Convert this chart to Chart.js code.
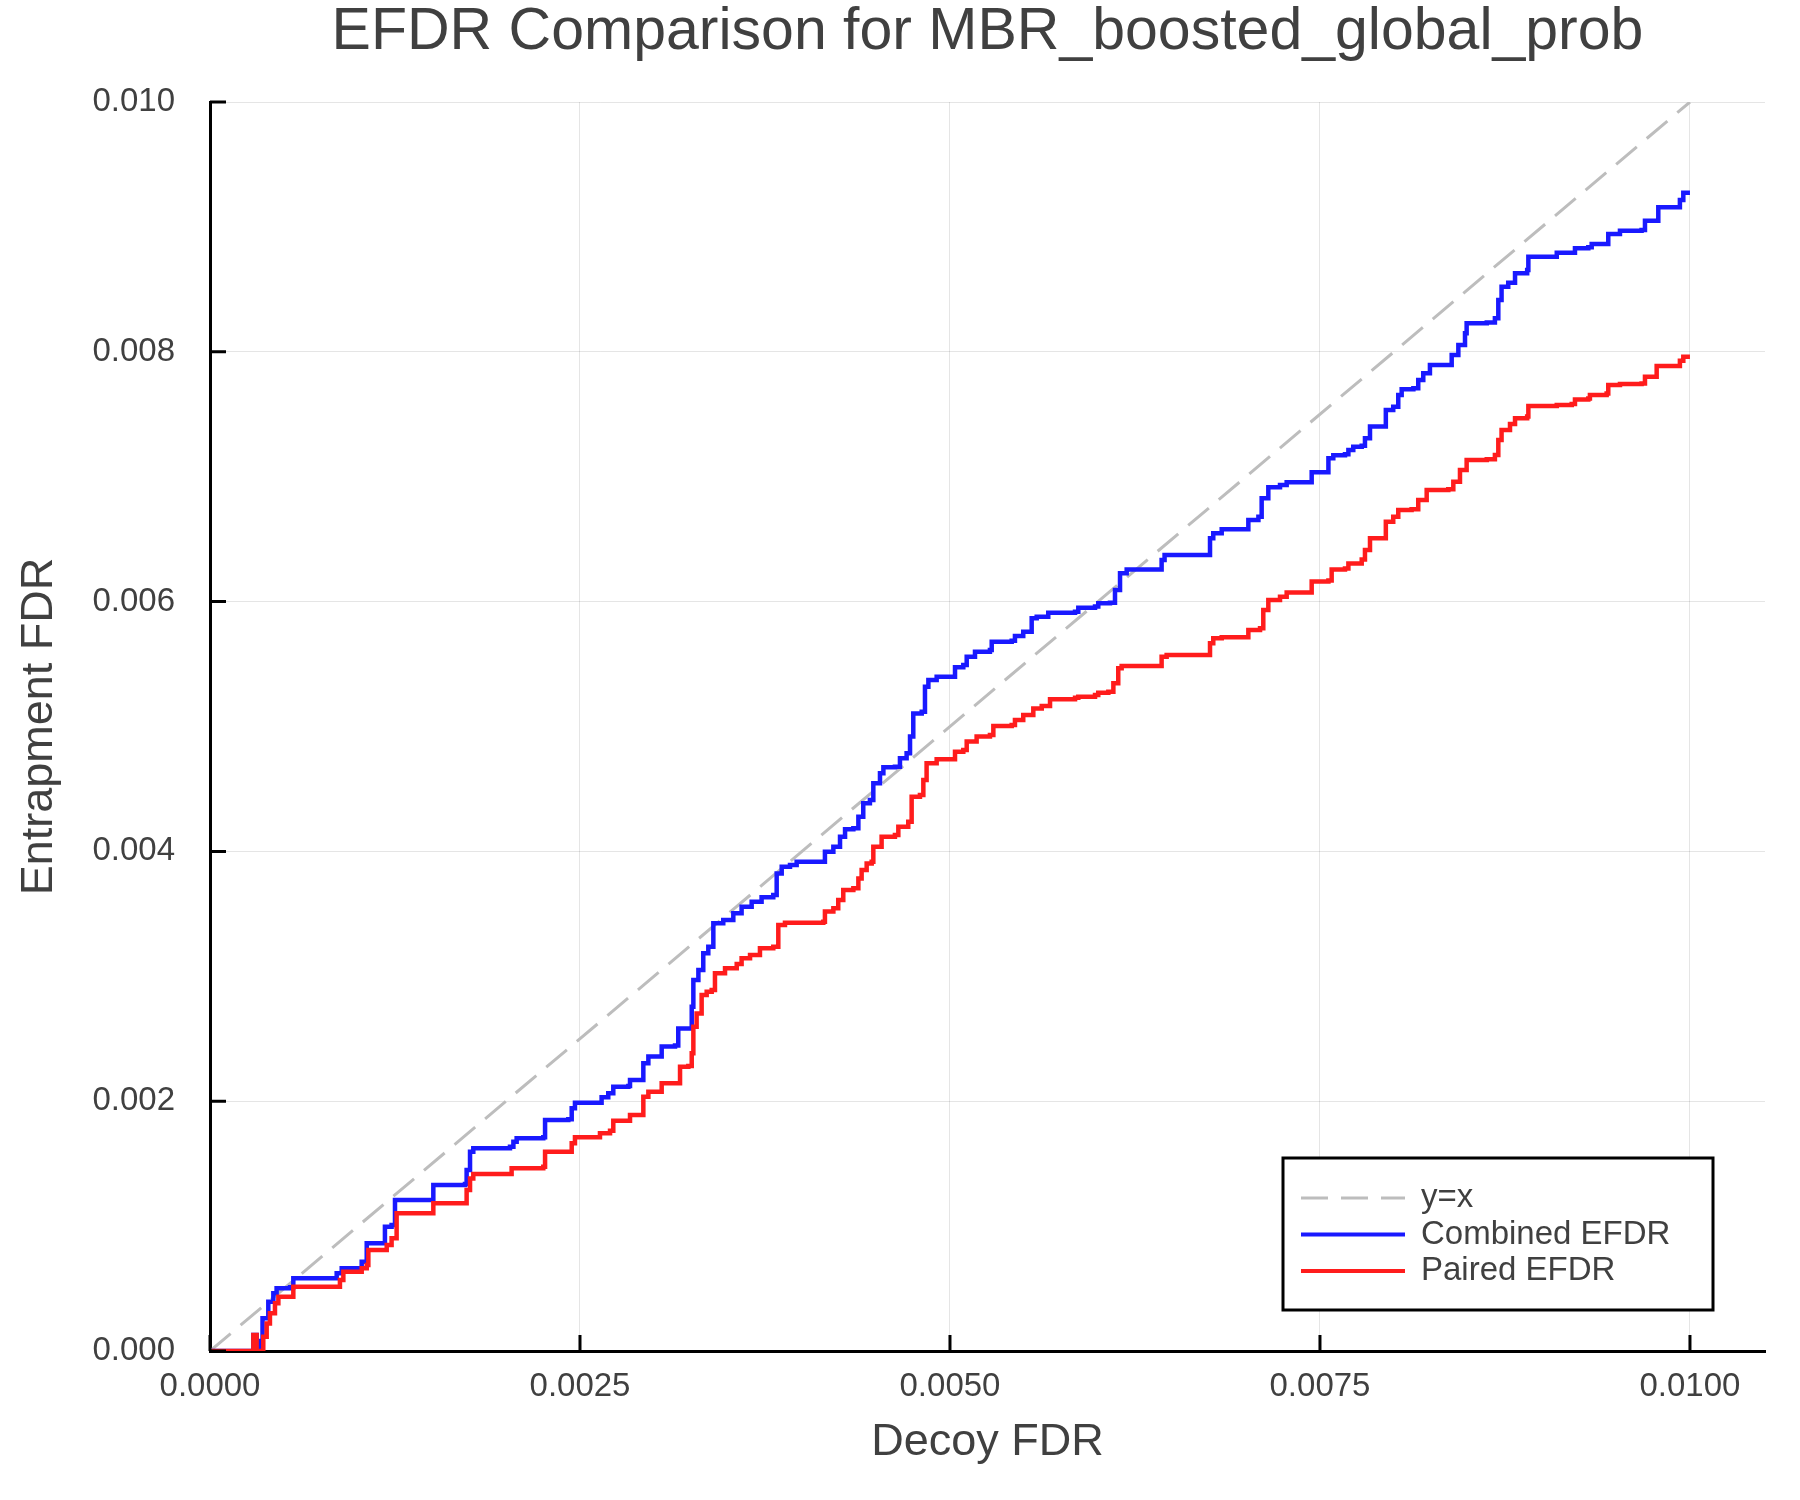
<!DOCTYPE html>
<html>
<head>
<meta charset="utf-8">
<title>EFDR Comparison for MBR_boosted_global_prob</title>
<script src="https://cdn.jsdelivr.net/npm/chart.js@4.4.0/dist/chart.umd.min.js"></script>
<style>
  html, body { margin: 0; padding: 0; background: #fff; }
  #wrap { width: 1800px; height: 1500px; }
</style>
</head>
<body>
<div id="wrap"><canvas id="efdrChart" width="1800" height="1500"></canvas></div>
<script>
// tick positions
const xTicks = [0, 0.0025, 0.005, 0.0075, 0.01];
const yTicks = [0, 0.002, 0.004, 0.006, 0.008, 0.010];

// reference line y = x
const diagX = [0, 0.01];
const diagY = [0, 0.01];

// Combined EFDR
const combinedX = [
  0, 0.000236, 0.000293, 0.000315, 0.000345, 0.000355, 0.000394, 0.000428, 0.000450, 0.000541,
  0.000563, 0.000845, 0.000856, 0.000890, 0.000991, 0.001025, 0.001059, 0.001160, 0.001182, 0.001227,
  0.001250, 0.001486, 0.001509, 0.001723, 0.001734, 0.001757, 0.001779, 0.002027, 0.002050, 0.002072,
  0.002252, 0.002264, 0.002421, 0.002444, 0.002466, 0.002624, 0.002646, 0.002691, 0.002725, 0.002827,
  0.002838, 0.002917, 0.002928, 0.002962, 0.003029, 0.003052, 0.003142, 0.003164, 0.003232, 0.003255,
  0.003266, 0.003300, 0.003333, 0.003367, 0.003401, 0.003468, 0.003536, 0.003592, 0.003660, 0.003727,
  0.003806, 0.003829, 0.003863, 0.003919, 0.003964, 0.004133, 0.004155, 0.004212, 0.004257, 0.004291,
  0.004347, 0.004381, 0.004414, 0.004459, 0.004482, 0.004527, 0.004550, 0.004628, 0.004662, 0.004707,
  0.004730, 0.004752, 0.004809, 0.004831, 0.004854, 0.004910, 0.005023, 0.005034, 0.005090, 0.005113,
  0.005169, 0.005270, 0.005282, 0.005417, 0.005439, 0.005495, 0.005552, 0.005586, 0.005664, 0.005845,
  0.005867, 0.005980, 0.006002, 0.006081, 0.006115, 0.006149, 0.006194, 0.006396, 0.006430, 0.006450,
  0.006734, 0.006757, 0.006779, 0.006836, 0.007005, 0.007016, 0.007084, 0.007106, 0.007151, 0.007230,
  0.007275, 0.007410, 0.007444, 0.007534, 0.007557, 0.007590, 0.007669, 0.007692, 0.007725, 0.007782,
  0.007804, 0.007838, 0.007939, 0.007945, 0.007995, 0.008029, 0.008052, 0.008131, 0.008164, 0.008198,
  0.008243, 0.008367, 0.008390, 0.008435, 0.008480, 0.008491, 0.008627, 0.008682, 0.008705, 0.008727,
  0.008772, 0.008818, 0.008900, 0.008908, 0.009032, 0.009100, 0.009201, 0.009223, 0.009313, 0.009336,
  0.009437, 0.009448, 0.009527, 0.009673, 0.009696, 0.009764, 0.009786, 0.009910, 0.009932, 0.009955,
  0.010000
];
const combinedY = [
  0, 0, 0.000128, 0, 0.000080, 0.000262, 0.000395, 0.000462, 0.000502, 0.000510,
  0.000582, 0.000582, 0.000622, 0.000662, 0.000662, 0.000715, 0.000862, 0.000862, 0.000995, 0.001009,
  0.001209, 0.001209, 0.001329, 0.001337, 0.001449, 0.001596, 0.001623, 0.001636, 0.001676, 0.001703,
  0.001711, 0.001849, 0.001855, 0.001943, 0.001988, 0.001988, 0.002031, 0.002063, 0.002116, 0.002121,
  0.002170, 0.002170, 0.002303, 0.002357, 0.002357, 0.002437, 0.002445, 0.002583, 0.002583, 0.002757,
  0.002970, 0.003050, 0.003184, 0.003237, 0.003424, 0.003450, 0.003504, 0.003557, 0.003597, 0.003632,
  0.003651, 0.003824, 0.003878, 0.003891, 0.003918, 0.003918, 0.003998, 0.004038, 0.004118, 0.004177,
  0.004185, 0.004278, 0.004385, 0.004412, 0.004545, 0.004625, 0.004673, 0.004678, 0.004745, 0.004785,
  0.004919, 0.005105, 0.005119, 0.005319, 0.005372, 0.005399, 0.005399, 0.005474, 0.005492, 0.005559,
  0.005599, 0.005612, 0.005679, 0.005687, 0.005725, 0.005759, 0.005866, 0.005879, 0.005911, 0.005919,
  0.005951, 0.005960, 0.005986, 0.005991, 0.006093, 0.006227, 0.006258, 0.006258, 0.006333, 0.006373,
  0.006373, 0.006507, 0.006547, 0.006579, 0.006579, 0.006653, 0.006680, 0.006827, 0.006915, 0.006934,
  0.006955, 0.006955, 0.007035, 0.007035, 0.007147, 0.007171, 0.007179, 0.007214, 0.007240, 0.007248,
  0.007307, 0.007401, 0.007401, 0.007534, 0.007561, 0.007654, 0.007700, 0.007708, 0.007774, 0.007828,
  0.007894, 0.007894, 0.007974, 0.008054, 0.008148, 0.008228, 0.008234, 0.008268, 0.008415, 0.008521,
  0.008553, 0.008628, 0.008655, 0.008761, 0.008761, 0.008794, 0.008794, 0.008829, 0.008837, 0.008863,
  0.008863, 0.008943, 0.008970, 0.008975, 0.009050, 0.009050, 0.009157, 0.009157, 0.009215, 0.009274,
  0.009274
];

// Paired EFDR
const pairedX = [
  0, 0.000236, 0.000293, 0.000315, 0.000360, 0.000383, 0.000405, 0.000439, 0.000462, 0.000541,
  0.000563, 0.000845, 0.000878, 0.000901, 0.000991, 0.001025, 0.001059, 0.001070, 0.001171, 0.001194,
  0.001227, 0.001261, 0.001498, 0.001509, 0.001712, 0.001734, 0.001757, 0.001779, 0.002016, 0.002038,
  0.002252, 0.002264, 0.002421, 0.002444, 0.002466, 0.002613, 0.002635, 0.002703, 0.002725, 0.002827,
  0.002838, 0.002917, 0.002928, 0.002962, 0.003029, 0.003052, 0.003164, 0.003176, 0.003232, 0.003255,
  0.003266, 0.003288, 0.003322, 0.003356, 0.003390, 0.003412, 0.003480, 0.003559, 0.003592, 0.003649,
  0.003716, 0.003806, 0.003840, 0.003885, 0.004144, 0.004155, 0.004212, 0.004245, 0.004279, 0.004347,
  0.004381, 0.004403, 0.004437, 0.004471, 0.004482, 0.004538, 0.004628, 0.004651, 0.004718, 0.004741,
  0.004797, 0.004820, 0.004842, 0.004910, 0.005023, 0.005034, 0.005090, 0.005113, 0.005180, 0.005270,
  0.005293, 0.005417, 0.005439, 0.005495, 0.005563, 0.005620, 0.005676, 0.005845, 0.005867, 0.005980,
  0.006002, 0.006070, 0.006104, 0.006137, 0.006160, 0.006396, 0.006430, 0.006464, 0.006734, 0.006757,
  0.006779, 0.006836, 0.007005, 0.007016, 0.007095, 0.007117, 0.007151, 0.007230, 0.007275, 0.007410,
  0.007444, 0.007557, 0.007579, 0.007669, 0.007692, 0.007782, 0.007804, 0.007838, 0.007939, 0.007945,
  0.007995, 0.008029, 0.008119, 0.008164, 0.008221, 0.008367, 0.008401, 0.008446, 0.008491, 0.008627,
  0.008682, 0.008705, 0.008727, 0.008784, 0.008818, 0.008900, 0.008908, 0.009100, 0.009201, 0.009223,
  0.009313, 0.009324, 0.009437, 0.009448, 0.009527, 0.009673, 0.009696, 0.009764, 0.009775, 0.009910,
  0.009932, 0.009955, 0.010000
];
const pairedY = [
  0, 0, 0.000128, 0, 0.000115, 0.000221, 0.000302, 0.000382, 0.000435, 0.000435,
  0.000515, 0.000515, 0.000568, 0.000635, 0.000635, 0.000662, 0.000689, 0.000809, 0.000809, 0.000849,
  0.000902, 0.001102, 0.001102, 0.001182, 0.001182, 0.001289, 0.001382, 0.001417, 0.001417, 0.001463,
  0.001476, 0.001596, 0.001596, 0.001663, 0.001711, 0.001711, 0.001743, 0.001764, 0.001844, 0.001844,
  0.001890, 0.001890, 0.002036, 0.002076, 0.002076, 0.002143, 0.002143, 0.002276, 0.002282, 0.002383,
  0.002597, 0.002703, 0.002850, 0.002877, 0.002891, 0.003024, 0.003064, 0.003099, 0.003144, 0.003171,
  0.003224, 0.003237, 0.003411, 0.003429, 0.003437, 0.003518, 0.003544, 0.003611, 0.003691, 0.003704,
  0.003784, 0.003851, 0.003904, 0.003918, 0.004038, 0.004118, 0.004131, 0.004198, 0.004238, 0.004438,
  0.004452, 0.004572, 0.004705, 0.004737, 0.004737, 0.004798, 0.004812, 0.004879, 0.004919, 0.004932,
  0.005004, 0.005012, 0.005052, 0.005092, 0.005145, 0.005164, 0.005218, 0.005231, 0.005239, 0.005252,
  0.005271, 0.005279, 0.005346, 0.005466, 0.005485, 0.005485, 0.005559, 0.005572, 0.005572, 0.005666,
  0.005706, 0.005714, 0.005714, 0.005773, 0.005786, 0.005933, 0.006013, 0.006039, 0.006072, 0.006072,
  0.006160, 0.006168, 0.006258, 0.006266, 0.006306, 0.006338, 0.006413, 0.006507, 0.006507, 0.006640,
  0.006680, 0.006733, 0.006739, 0.006813, 0.006893, 0.006899, 0.006960, 0.007054, 0.007134, 0.007139,
  0.007174, 0.007294, 0.007374, 0.007422, 0.007467, 0.007481, 0.007566, 0.007574, 0.007582, 0.007619,
  0.007627, 0.007654, 0.007667, 0.007734, 0.007742, 0.007747, 0.007801, 0.007801, 0.007886, 0.007886,
  0.007929, 0.007961, 0.007961
];

const TEXT = '#404040';
const FONT = '"Liberation Sans", Helvetica, Arial, sans-serif';
Chart.defaults.font.family = FONT;
Chart.defaults.color = TEXT;

function toPoints(xs, ys) {
  return xs.map((x, i) => ({ x: x, y: ys[i] }));
}

// tick marks on the inside of the axes
const inwardTicks = {
  id: 'inwardTicks',
  afterDatasetsDraw(chart) {
    const { ctx, chartArea, scales } = chart;
    ctx.save();
    ctx.strokeStyle = '#000';
    ctx.lineWidth = 3;
    ctx.beginPath();
    scales.x.ticks.forEach(t => {
      const px = scales.x.getPixelForValue(t.value);
      ctx.moveTo(px, chartArea.bottom);
      ctx.lineTo(px, chartArea.bottom - 16);
    });
    scales.y.ticks.forEach(t => {
      const py = scales.y.getPixelForValue(t.value);
      ctx.moveTo(chartArea.left, py);
      ctx.lineTo(chartArea.left + 16, py);
    });
    ctx.stroke();
    ctx.restore();
  }
};

// framed legend in the lower right of the plot
const boxLegend = {
  id: 'boxLegend',
  afterDraw(chart) {
    const { ctx, chartArea } = chart;
    const w = 430, h = 152;
    const x0 = chartArea.right - 52 - w;
    const y0 = chartArea.bottom - 41 - h;
    ctx.save();
    ctx.fillStyle = '#fff';
    ctx.fillRect(x0, y0, w, h);
    ctx.strokeStyle = '#000';
    ctx.lineWidth = 3;
    ctx.strokeRect(x0, y0, w, h);
    chart.data.datasets.forEach((ds, i) => {
      const y = y0 + 40 + i * 36.5;
      ctx.beginPath();
      ctx.setLineDash(ds.borderDash || []);
      ctx.strokeStyle = ds.borderColor;
      ctx.lineWidth = Math.min(ds.borderWidth, 4);
      ctx.moveTo(x0 + 18, y);
      ctx.lineTo(x0 + 122, y);
      ctx.stroke();
      ctx.setLineDash([]);
      ctx.fillStyle = TEXT;
      ctx.font = '33px ' + FONT;
      ctx.textBaseline = 'middle';
      ctx.textAlign = 'left';
      ctx.fillText(ds.label, x0 + 138, y);
    });
    ctx.restore();
  }
};

new Chart(document.getElementById('efdrChart'), {
  type: 'scatter',
  data: {
    datasets: [
      {
        label: 'y=x',
        data: toPoints(diagX, diagY),
        showLine: true,
        borderColor: '#bdbdbd',
        borderWidth: 3,
        borderDash: [27, 13],
        pointRadius: 0,
        order: 3
      },
      {
        label: 'Combined EFDR',
        data: toPoints(combinedX, combinedY),
        showLine: true,
        stepped: 'before',
        borderColor: 'rgb(25, 25, 255)',
        borderWidth: 4.5,
        pointRadius: 0,
        order: 2
      },
      {
        label: 'Paired EFDR',
        data: toPoints(pairedX, pairedY),
        showLine: true,
        stepped: 'before',
        borderColor: 'rgb(255, 28, 28)',
        borderWidth: 4.5,
        pointRadius: 0,
        order: 1
      }
    ]
  },
  options: {
    responsive: false,
    devicePixelRatio: 1,
    animation: false,
    layout: { padding: { left: 0, right: 35, top: 0, bottom: 0 } },
    plugins: {
      legend: { display: false },
      tooltip: { enabled: false },
      title: {
        display: true,
        text: 'EFDR Comparison for MBR_boosted_global_prob',
        fullSize: false,
        color: TEXT,
        font: { size: 59, weight: 'normal', lineHeight: 1.0 },
        padding: { top: 3, bottom: 40 }
      }
    },
    scales: {
      x: {
        type: 'linear',
        min: 0,
        max: 0.010507,
        afterBuildTicks: s => { s.ticks = xTicks.map(v => ({ value: v })); },
        afterFit: s => { s.height = 149; },
        ticks: {
          callback: v => v.toFixed(4),
          font: { size: 33 },
          color: TEXT,
          padding: 16,
          maxRotation: 0,
          autoSkip: false
        },
        grid: { color: 'rgba(0,0,0,0.1)', lineWidth: 1, drawTicks: false },
        border: { color: '#000', width: 3 },
        title: {
          display: true,
          text: 'Decoy FDR',
          color: TEXT,
          font: { size: 45 },
          padding: { top: 0, bottom: 30 }
        }
      },
      y: {
        type: 'linear',
        min: 0,
        max: 0.010,
        afterBuildTicks: s => { s.ticks = yTicks.map(v => ({ value: v })); },
        afterFit: s => { s.width = 210; },
        ticks: {
          callback: v => v.toFixed(3),
          font: { size: 33 },
          color: TEXT,
          padding: 35,
          autoSkip: false
        },
        grid: { color: 'rgba(0,0,0,0.1)', lineWidth: 1, drawTicks: false },
        border: { color: '#000', width: 3 },
        title: {
          display: true,
          text: 'Entrapment FDR',
          color: TEXT,
          font: { size: 45 },
          padding: { top: 13, bottom: 0 }
        }
      }
    }
  },
  plugins: [inwardTicks, boxLegend]
});
</script>
</body>
</html>
